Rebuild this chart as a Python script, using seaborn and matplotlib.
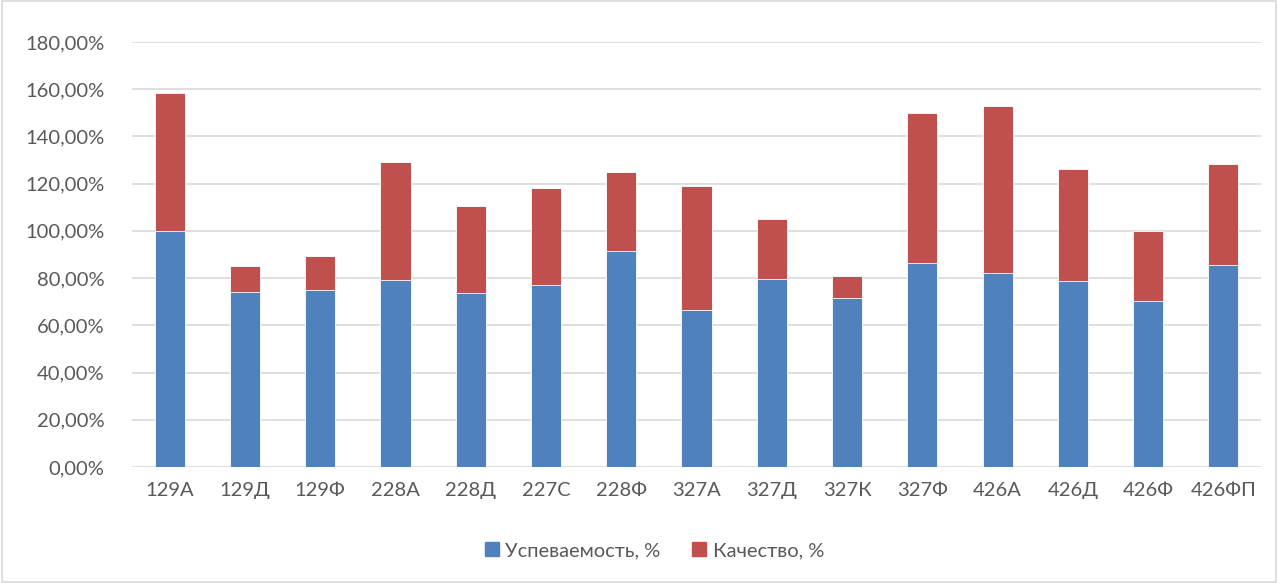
import matplotlib
matplotlib.use("Agg")
import matplotlib.pyplot as plt
import seaborn as sns
import pandas as pd
from matplotlib.patches import Rectangle

categories = ["129А", "129Д", "129Ф", "228А", "228Д", "227С", "228Ф", "327А",
              "327Д", "327К", "327Ф", "426А", "426Д", "426Ф", "426ФП"]
uspevaemost = [100.0, 74.0, 75.0, 79.0, 73.7, 77.0, 91.6, 66.6,
               79.7, 71.4, 86.2, 82.1, 78.7, 70.4, 85.5]
kachestvo = [58.6, 11.1, 14.3, 50.1, 36.7, 41.2, 33.3, 52.4,
             25.2, 9.3, 63.8, 70.9, 47.5, 29.6, 42.9]
series_names = ["Успеваемость, %", "Качество, %"]
y_ticks = [0, 20, 40, 60, 80, 100, 120, 140, 160, 180]

blue = "#4F81BD"
red = "#C0504D"
text_col = "#595959"

sns.set_theme(style="white")
plt.rcParams["font.family"] = ["Lato", "DejaVu Sans"]

df = pd.DataFrame({"cat": categories, "u": uspevaemost, "k": kachestvo})
df["total"] = df["u"] + df["k"]

fig = plt.figure(figsize=(12.78, 5.83), dpi=100)
ax = fig.add_axes([0.1033, 0.199, 0.8834, 0.729])

sns.barplot(data=df, x="cat", y="total", color=red, saturation=1, width=0.4,
            edgecolor="white", linewidth=0.6, ax=ax)
sns.barplot(data=df, x="cat", y="u", color=blue, saturation=1, width=0.4,
            edgecolor="white", linewidth=0.6, ax=ax)

ax.set_ylim(0, 180)
ax.set_xlim(-0.5, len(categories) - 0.5)
ax.set_yticks(y_ticks)
ax.set_yticklabels([f"{t:.2f}".replace(".", ",") + "%" for t in y_ticks])
ax.yaxis.grid(True, color="#D9D9D9", linewidth=1.2)
ax.set_axisbelow(True)
for s in ax.spines.values():
    s.set_visible(False)
ax.tick_params(axis="both", length=0, labelsize=14.5, colors=text_col)
ax.tick_params(axis="x", pad=11)
ax.tick_params(axis="y", pad=20)
ax.set_xlabel("")
ax.set_ylabel("")

handles = [Rectangle((0, 0), 1, 1, color=blue), Rectangle((0, 0), 1, 1, color=red)]
leg = fig.legend(handles, series_names, loc="center", bbox_to_anchor=(0.512, 0.056),
                 ncol=2, frameon=False, fontsize=14.5, handlelength=0.7,
                 handleheight=0.7, handletextpad=0.3, columnspacing=1.6)
for t in leg.get_texts():
    t.set_color(text_col)

fig.patches.append(Rectangle((0.0015, 0.002), 0.997, 0.996, transform=fig.transFigure,
                             fill=False, edgecolor="#D9D9D9", linewidth=1.2))

fig.savefig("out.png", dpi=100, facecolor="white")
